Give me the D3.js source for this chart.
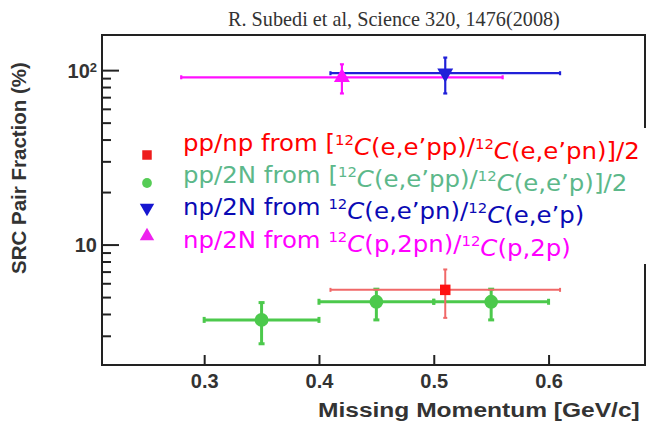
<!DOCTYPE html>
<html>
<head>
<meta charset="utf-8">
<script src="https://cdn.jsdelivr.net/npm/d3@7"></script>
<style>
  html, body { margin: 0; padding: 0; background: #fff; }
  svg { display: block; }
</style>
</head>
<body>
<svg id="chart" width="655" height="424"></svg>
<script>
// Missing-momentum bins (GeV/c) and pair fractions (%) for each extraction
const ppnpX = [0.51];
const ppnpXLo = [0.41];
const ppnpXHi = [0.61];
const ppnpY = [5.5];
const ppnpYLo = [3.8];
const ppnpYHi = [7.2];

const pp2NX = [0.35, 0.45, 0.55];
const pp2NXLo = [0.30, 0.40, 0.50];
const pp2NXHi = [0.40, 0.50, 0.60];
const pp2NY = [3.7, 4.7, 4.7];
const pp2NYLo = [2.7, 3.7, 3.7];
const pp2NYHi = [4.65, 5.55, 5.55];

const np2NeX = [0.51];
const np2NeXLo = [0.41];
const np2NeXHi = [0.61];
const np2NeY = [96];
const np2NeYLo = [73.5];
const np2NeYHi = [118];

const np2NpX = [0.42];
const np2NpXLo = [0.28];
const np2NpXHi = [0.56];
const np2NpY = [91];
const np2NpYLo = [73.5];
const np2NpYHi = [108];

const xTicks = [0.3, 0.4, 0.5, 0.6];
const xTickLabels = ["0.3", "0.4", "0.5", "0.6"];
const yMajorTicks = [10, 100];
const yMinorTicks = [3, 4, 5, 6, 7, 8, 9, 20, 30, 40, 50, 60, 70, 80, 90];

const svg = d3.select("#chart");
const plotLeft = 102, plotRight = 645, plotTop = 35, plotBottom = 365;

const x = d3.scaleLinear().domain([0.211, 0.684]).range([plotLeft, plotRight]);
const y = d3.scaleLog().domain([2.04, 159]).range([plotBottom, plotTop]);

const axisColor = "#222";
const labelColor = "#333";
const sansBold = "Liberation Sans, Arial, sans-serif";

// Stretch a text horizontally about its anchor x so it spans the given width
function fitWidth(sel, anchorX, width) {
  const w = sel.node().getBBox().width;
  const s = width / w;
  sel.attr("transform", `translate(${anchorX},0) scale(${s},1) translate(${-anchorX},0)`);
}

// Title line
const title = svg.append("text")
  .attr("x", 228).attr("y", 26)
  .attr("font-family", "Liberation Serif, serif")
  .attr("font-size", 21)
  .attr("fill", "#333")
  .text("R. Subedi et al, Science 320, 1476(2008)");
fitWidth(title, 228, 332);

// Frame
svg.append("rect")
  .attr("x", plotLeft).attr("y", plotTop)
  .attr("width", plotRight - plotLeft).attr("height", plotBottom - plotTop)
  .attr("fill", "none").attr("stroke", axisColor).attr("stroke-width", 2);

// Bottom axis: ticks point inward
const xAxis = d3.axisBottom(x).tickValues(xTicks)
  .tickSizeInner(-10).tickSizeOuter(0)
  .tickPadding(9)
  .tickFormat((d, i) => xTickLabels[i]);
const gx = svg.append("g").attr("transform", `translate(0,${plotBottom})`).call(xAxis);
gx.select(".domain").remove();
gx.selectAll(".tick line").attr("stroke", axisColor).attr("stroke-width", 2);
gx.selectAll(".tick text")
  .attr("font-family", sansBold)
  .attr("font-weight", "bold").attr("font-size", 20)
  .attr("fill", labelColor);

// Left axis: major and minor ticks point inward
const gyMinor = svg.append("g").attr("transform", `translate(${plotLeft},0)`)
  .call(d3.axisLeft(y).tickValues(yMinorTicks).tickSizeInner(-9).tickSizeOuter(0).tickFormat(""));
gyMinor.select(".domain").remove();
gyMinor.selectAll(".tick line").attr("stroke", axisColor).attr("stroke-width", 2);

const gyMajor = svg.append("g").attr("transform", `translate(${plotLeft},0)`)
  .call(d3.axisLeft(y).tickValues(yMajorTicks).tickSizeInner(-17).tickSizeOuter(0).tickFormat(""));
gyMajor.select(".domain").remove();
gyMajor.selectAll(".tick line").attr("stroke", axisColor).attr("stroke-width", 2);
gyMajor.selectAll(".tick").each(function(d) {
  const t = d3.select(this).append("text")
    .attr("x", -5).attr("dy", "0.35em")
    .attr("text-anchor", "end")
    .attr("font-family", sansBold)
    .attr("font-weight", "bold").attr("font-size", 20)
    .attr("fill", labelColor);
  if (d === 100) {
    t.append("tspan").text("10");
    t.append("tspan").attr("dy", "-0.45em").attr("font-size", 13).text("2");
  } else {
    t.text("10");
  }
});

// Axis titles
svg.append("text")
  .attr("transform", `translate(26,168) rotate(-90)`)
  .attr("text-anchor", "middle")
  .attr("font-family", sansBold)
  .attr("font-weight", "bold").attr("font-size", 20.5)
  .attr("fill", labelColor)
  .text("SRC Pair Fraction (%)");

const xTitle = svg.append("text")
  .attr("x", 318).attr("y", 417)
  .attr("font-family", sansBold)
  .attr("font-weight", "bold").attr("font-size", 20)
  .attr("fill", labelColor)
  .text("Missing Momentum [GeV/c]");
fitWidth(xTitle, 318, 322);

// Error bars with small end caps
function errorBars(xs, xlo, xhi, ys, ylo, yhi, color, width, cap) {
  const g = svg.append("g").attr("stroke", color).attr("stroke-width", width).attr("fill", "none");
  xs.forEach((xv, i) => {
    const cx = x(xv), cy = y(ys[i]);
    g.append("line").attr("x1", x(xlo[i])).attr("x2", x(xhi[i])).attr("y1", cy).attr("y2", cy);
    g.append("line").attr("x1", cx).attr("x2", cx).attr("y1", y(ylo[i])).attr("y2", y(yhi[i]));
    g.append("line").attr("x1", x(xlo[i])).attr("x2", x(xlo[i])).attr("y1", cy - cap).attr("y2", cy + cap);
    g.append("line").attr("x1", x(xhi[i])).attr("x2", x(xhi[i])).attr("y1", cy - cap).attr("y2", cy + cap);
    g.append("line").attr("x1", cx - cap).attr("x2", cx + cap).attr("y1", y(ylo[i])).attr("y2", y(ylo[i]));
    g.append("line").attr("x1", cx - cap).attr("x2", cx + cap).attr("y1", y(yhi[i])).attr("y2", y(yhi[i]));
  });
}

function symbolFor(type) {
  return type === "square" ? d3.symbolSquare : type === "circle" ? d3.symbolCircle : d3.symbolTriangle;
}

function markers(xs, ys, type, size, color) {
  svg.append("g").selectAll("path").data(xs).join("path")
    .attr("transform", (d, i) => `translate(${x(d)},${y(ys[i])})${type === "down" ? " rotate(180)" : ""}`)
    .attr("d", d3.symbol().type(symbolFor(type)).size(size))
    .attr("fill", color);
}

const cRed = "#ff1010", cRedBar = "#f06868";
const cGreen = "#4cc94c";
const cBlue = "#2020d8";
const cMagenta = "#ff10ff";

errorBars(pp2NX, pp2NXLo, pp2NXHi, pp2NY, pp2NYLo, pp2NYHi, cGreen, 3, 3);
markers(pp2NX, pp2NY, "circle", 150, cGreen);
errorBars(ppnpX, ppnpXLo, ppnpXHi, ppnpY, ppnpYLo, ppnpYHi, cRedBar, 2, 2);
markers(ppnpX, ppnpY, "square", 110, cRed);

errorBars(np2NpX, np2NpXLo, np2NpXHi, np2NpY, np2NpYLo, np2NpYHi, cMagenta, 2.2, 2);
errorBars(np2NeX, np2NeXLo, np2NeXHi, np2NeY, np2NeYLo, np2NeYHi, cBlue, 2.2, 2);
markers(np2NpX, np2NpY, "up", 110, cMagenta);
markers(np2NeX, np2NeY, "down", 110, cBlue);

// Legend on a white panel that masks the frame's right edge
svg.append("rect").attr("x", 128).attr("y", 128).attr("width", 527).attr("height", 136).attr("fill", "#fff");

const legendItems = [
  { type: "square", color: "#ee1c1c", text: "#ff0000", lead: "pp/np from [", parts: [["12", "C(e,e’pp)/"], ["12", "C(e,e’pn)]/2"]] },
  { type: "circle", color: "#55cc55", text: "#5cb88a", lead: "pp/2N from [", parts: [["12", "C(e,e’pp)/"], ["12", "C(e,e’p)]/2"]] },
  { type: "down", color: "#1616d0", text: "#0a0ab4", lead: "np/2N from ", parts: [["12", "C(e,e’pn)/"], ["12", "C(e,e’p)"]] },
  { type: "up", color: "#ee22ee", text: "#ff00ff", lead: "np/2N from ", parts: [["12", "C(p,2pn)/"], ["12", "C(p,2p)"]] }
];
const legendTextBase = [151, 183, 215, 248];
const legendMarkY = [155, 183, 208, 236];

let legendScale = null;
legendItems.forEach((it, i) => {
  svg.append("path")
    .attr("transform", `translate(147,${legendMarkY[i]})${it.type === "down" ? " rotate(180)" : ""}`)
    .attr("d", d3.symbol().type(symbolFor(it.type)).size(it.type === "circle" ? 75 : 90))
    .attr("fill", it.color);
  const t = svg.append("text")
    .attr("x", 183).attr("y", legendTextBase[i])
    .attr("font-family", "DejaVu Sans, sans-serif")
    .attr("font-size", 23)
    .attr("fill", it.text);
  t.append("tspan").text(it.lead);
  it.parts.forEach(([sup, rest]) => {
    t.append("tspan").attr("dy", "-0.45em").attr("font-size", 14).text(sup);
    t.append("tspan").attr("dy", "0.45em").attr("font-style", "italic").text(rest[0]);
    t.append("tspan").text(rest.slice(1));
  });
  // the first (longest) line sets one common stretch for all rows
  if (legendScale === null) legendScale = 457 / t.node().getBBox().width;
  t.attr("transform", `translate(183,0) scale(${legendScale},1) translate(-183,0)`);
});
</script>
</body>
</html>
